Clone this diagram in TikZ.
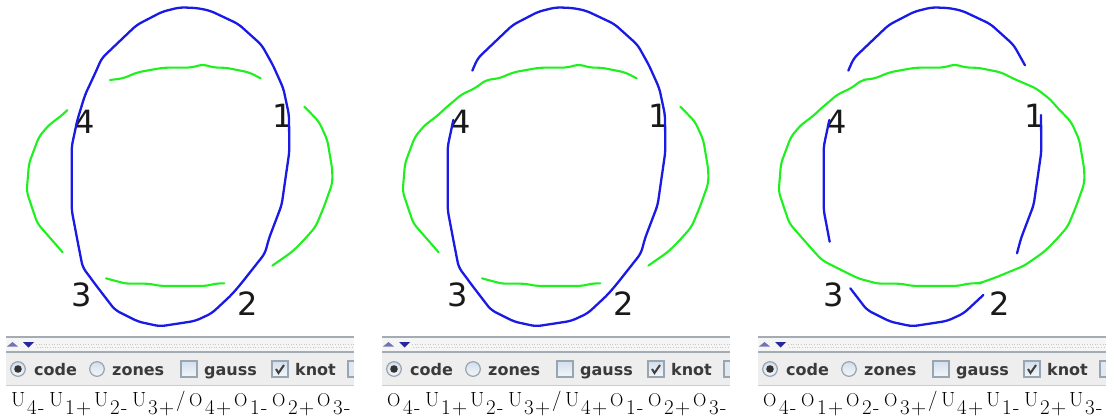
\documentclass[tikz,border=0pt]{standalone}
\usepackage{fontspec}
\newfontfamily\uifont{DejaVu Sans}
\definecolor{kblue}{HTML}{1A1AE6}
\definecolor{kgreen}{HTML}{1EF01E}
\definecolor{barline}{HTML}{A3ABB3}
\definecolor{barbg}{HTML}{EEEEEE}
\definecolor{boxedge}{HTML}{9AA5B2}
\definecolor{boxtop}{HTML}{D3DFEC}
\definecolor{boxbot}{HTML}{F3F6FA}
\definecolor{uitext}{HTML}{3A3A3A}
\tikzset{
  bluestrand/.style={draw=kblue,line width=2.3pt,rounded corners=5pt,line join=round,line cap=round},
  greenstrand/.style={draw=kgreen,line width=2.1pt,rounded corners=5pt,line join=round,line cap=round},
  crosslabel/.style={inner sep=0pt,font=\uifont\fontsize{32}{32}\selectfont,text=black!90},
  uilabel/.style={inner sep=0pt,anchor=base west,font=\uifont\bfseries\fontsize{16}{16}\selectfont,text=uitext},
  codesym/.style={inner sep=0pt,anchor=base west,font=\fontsize{20.5}{21}\selectfont,text=black},
  codesub/.style={inner sep=0pt,anchor=base west,font=\fontsize{21}{21}\selectfont,text=black},
  zoomgrid/.style={x=0.33333pt,y=-0.33333pt},
  uibox/.style={draw=boxedge,top color=boxtop,bottom color=boxbot,line width=1.2pt},
}
\newcommand{\OO}{{\fontsize{18.5}{19}\selectfont O}}
% strand pieces (each continues from the point before it), in thirds of a pixel
\def\BTop{-- (305,175) -- (410,75) -- (487,35) -- (540,22) -- (590,24) -- (630,32) -- (715,72) -- (785,135) -- (819,196)}
\def\BUpR{-- (850,265) -- (867,345)}
\def\BRight{-- (868,455) -- (845,615) -- (807,715) -- (795,760)}
\def\BLowR{-- (720,855) -- (694,885)}
\def\BBot{-- (635,940) -- (585,963) -- (480,979) -- (415,965) -- (345,930) -- (295,865)}
\def\BLowL{-- (248,802) -- (233,725)}
\def\BLeft{-- (215,630) -- (215,440) -- (232,360)}
\def\BUpL{-- (255,285)}
\def\GTop{-- (370,235) -- (412,217) -- (490,203) -- (572,203) -- (609,193) -- (642,203) -- (677,203) -- (747,217) -- (782,235)}
\def\GUpR{-- (852,265) -- (897,300) -- (913,320)}
\def\GRight{-- (957,365) -- (982,420) -- (997,510) -- (997,550) -- (972,620) -- (947,680) -- (912,720) -- (877,755) -- (817,797)}
\def\GLowR{-- (732,832) -- (682,850) -- (673,850)}
\def\GBot{-- (652,850) -- (617,858) -- (482,858) -- (447,851) -- (377,851) -- (318,835)}
\def\GLowL{-- (212,782) -- (188,757)}
\def\GLeft{-- (112,670) -- (80,575) -- (87,490) -- (117,410) -- (147,375) -- (187,345) -- (202,330)}
\def\GUpL{-- (257,283) -- (297,265) -- (330,240)}
\newcommand{\panelparts}[1]{%
  \fill[barbg] (6,338) rectangle (354,385);
  \fill[black!4] (6,338) rectangle (354,351);
  \draw[barline,line width=1.6pt] (6,337) -- (354,337);
  \draw[barline,line width=1.8pt] (6,352) -- (354,352);
  \draw[barline!60,line width=1pt] (6,385) -- (354,385);
  \draw[black!22,line width=1pt,dash pattern=on 1pt off 1.6pt] (36,344) -- (354,344);
  \draw[black!22,line width=1pt,dash pattern=on 1pt off 1.6pt] (37,347) -- (354,347);
  \fill[blue!45!black!55!white] (7,346.5) -- (12.5,342) -- (18,346.5) -- cycle;
  \fill[blue!55!black!85] (23,342) -- (34,342) -- (28.5,347.5) -- cycle;
  \filldraw[uibox] (18,369) circle (7.3);
  \fill[black!80] (18,369) circle (3.8);
  \filldraw[uibox] (97,369) circle (7.3);
  \filldraw[uibox] (181,361) rectangle (197,377);
  \filldraw[uibox] (272,361) rectangle (288,377);
  \draw[black!75,line width=2pt] (276,369) -- (278.5,373) -- (284,365);
  \fill[boxtop!60!boxbot] (348,361) rectangle (354,377);
  \draw[boxedge,line width=1.2pt] (354,361) -- (348,361) -- (348,377) -- (354,377);
  \node[uilabel] (code#1) at (34,375) {code};
  \node[uilabel] (zones#1) at (112,375) {zones};
  \node[uilabel] (gauss#1) at (204,375) {gauss};
  \node[uilabel] (knot#1) at (295,375) {knot};
  \node[crosslabel] (one#1) at (282.5,116) {1};
  \node[crosslabel] (two#1) at (248,304) {2};
  \node[crosslabel] (three#1) at (82,295) {3};
  \node[crosslabel] (four#1) at (85,122) {4};
}
\newcommand{\codeline}[8]{%
  \foreach \L/\D/\S/\X/\SX in {#1/4/-/11/38,#2/1/+/49/76,#3/2/-/94/121,#4/3/+/132/159,#5/4/+/189/216,#6/1/-/234/261,#7/2/+/272/299,#8/3/-/317/344}{
    \node[codesym] at (\X,406) {\L};
    \node[codesub] at (\X+16,414) {\D};
    \node[codesub] at (\SX,414) {\S};
  }
  \node[codesym] (slash) at (176,406) {/};
}
\begin{document}
\begin{tikzpicture}[x=1pt,y=-1pt]
\useasboundingbox (0,0) rectangle (1106,420);
\fill[white] (0,0) rectangle (1106,420);
% panel 1
\begin{scope}
  \panelparts{a}
  \codeline{U}{U}{U}{U}{\OO}{\OO}{\OO}{\OO}
  \begin{scope}[zoomgrid]
    \draw[greenstrand] (330,240) \GTop;
    \draw[greenstrand] (913,320) \GRight;
    \draw[greenstrand] (673,850) \GBot;
    \draw[greenstrand] (188,757) \GLeft;
    \draw[bluestrand] (289,212) \BTop \BUpR \BRight \BLowR \BBot \BLowL \BLeft \BUpL -- cycle;
  \end{scope}
\end{scope}
% panel 2
\begin{scope}[xshift=376pt]
  \panelparts{b}
  \codeline{\OO}{U}{U}{U}{U}{\OO}{\OO}{\OO}
  \begin{scope}[zoomgrid]
    \draw[greenstrand] (188,757) \GLeft \GUpL \GTop;
    \draw[greenstrand] (913,320) \GRight;
    \draw[greenstrand] (673,850) \GBot;
    \draw[bluestrand] (289,212) \BTop \BUpR \BRight \BLowR \BBot \BLowL \BLeft;
  \end{scope}
\end{scope}
% panel 3
\begin{scope}[xshift=752pt]
  \panelparts{c}
  \codeline{\OO}{\OO}{\OO}{\OO}{U}{U}{U}{U}
  \begin{scope}[zoomgrid]
    \draw[greenstrand,line join=round] (350,237.5) \GTop \GUpR \GRight \GLowR \GBot \GLowL \GLeft \GUpL -- cycle;
    \draw[bluestrand] (289,212) \BTop;
    \draw[bluestrand] (867,345) \BRight;
    \draw[bluestrand] (694,885) \BBot;
    \draw[bluestrand] (233,725) \BLeft;
  \end{scope}
\end{scope}
\end{tikzpicture}
\end{document}
